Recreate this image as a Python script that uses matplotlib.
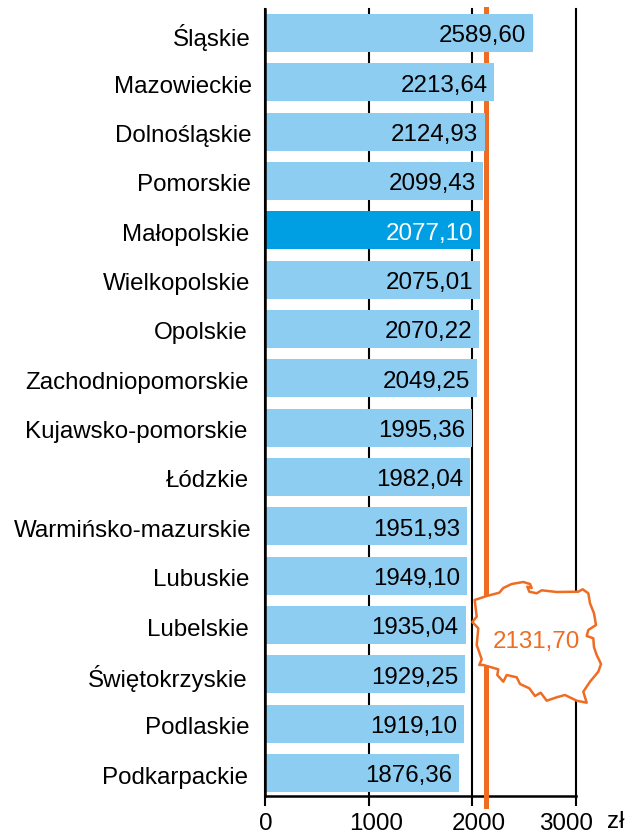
import matplotlib
matplotlib.use('Agg')
import matplotlib.pyplot as plt
from matplotlib.patches import Polygon
from matplotlib.transforms import ScaledTranslation

plt.rcParams['font.family'] = ['Liberation Sans', 'DejaVu Sans']

regions = ['Śląskie', 'Mazowieckie', 'Dolnośląskie', 'Pomorskie', 'Małopolskie',
           'Wielkopolskie', 'Opolskie', 'Zachodniopomorskie', 'Kujawsko-pomorskie',
           'Łódzkie', 'Warmińsko-mazurskie', 'Lubuskie', 'Lubelskie',
           'Świętokrzyskie', 'Podlaskie', 'Podkarpackie']
values = [2589.60, 2213.64, 2124.93, 2099.43, 2077.10, 2075.01, 2070.22, 2049.25,
          1995.36, 1982.04, 1951.93, 1949.10, 1935.04, 1929.25, 1919.10, 1876.36]
highlight = 'Małopolskie'
national = 2131.70

# hand placement of labels in the original, pixels
label_nudge = [1, 2, 1, 1, -1, 0, -2, -1, -3, -1, 1, -1, -1, -2, -1, -2]
xtick_nudge = [0, 7, 7, -10]

# outline of Poland, figure pixels
map_x = [474.7, 486.7, 499.3, 503.3, 511.7, 523.3, 530, 531.7, 527.3, 529.3, 536.7, 541.7,
         556.7, 578.3, 582.7, 588.3, 590, 594, 596, 588.3, 586.7, 593.3, 594, 596.7, 601,
         598.3, 590, 583.3, 585, 586.7, 576.7, 565, 556.7, 546.7, 540.7, 535, 529.3, 520,
         516.7, 506.7, 503.3, 497.3, 498.3, 483.3, 479.3, 481.7, 476.7, 478.3, 472.3, 476.7]
map_y = [600, 596, 592.7, 588, 584, 582, 584, 588, 586.7, 591.7, 593.3, 590.3,
         592, 591.7, 589.3, 593.3, 603.3, 613.3, 625, 630, 636, 638.3, 647.3, 655, 664,
         671.7, 681.7, 691.7, 697.3, 702.7, 700.7, 695, 697.3, 700.7, 692.7, 696, 688.3, 684,
         677.3, 675, 681.7, 675, 669.3, 665, 665, 659.3, 645, 628.3, 622, 616.7]

fig = plt.figure(figsize=(6.25, 8.32), dpi=100)
ax = fig.add_axes([265.3 / 625, 1 - 796 / 832, 310.4 / 625, 787 / 832])

ypos = list(range(len(regions)))
colors = ['#009FE3' if r == highlight else '#8ECDF2' for r in regions]

ax.axvline(national, color='#EF6C23', lw=3.6, zorder=1, ymin=-0.0127, clip_on=False)
ax.barh(ypos, values, height=0.77, color=colors, linewidth=0, zorder=2)

for y, r, v in zip(ypos, regions, values):
    txt = f'{v:.2f}'.replace('.', ',')
    ax.annotate(txt, (v, y), xytext=(-5, -2.5), textcoords='offset points', ha='right',
                va='center', fontsize=17.4, zorder=3,
                color='white' if r == highlight else 'black')

ax.set_xlim(0, 3000)
ax.set_ylim(15.466, -0.486)
ax.set_xticks([0, 1000, 2000, 3000])
ax.set_yticks(ypos)
ax.set_yticklabels(regions, fontsize=17.4)
ax.tick_params(axis='y', length=0, pad=11)
ax.tick_params(axis='x', length=7.2, width=1.5, labelsize=17.4, pad=5)
ax.grid(axis='x', color='black', lw=1.5, zorder=0)
ax.set_axisbelow(True)
for line in ax.get_xgridlines():
    line.set_clip_on(False)

for lab, dx in zip(ax.get_yticklabels(), label_nudge):
    lab.set_transform(lab.get_transform() + ScaledTranslation(dx / 100, -2 / 100, fig.dpi_scale_trans))
for lab, dx in zip(ax.get_xticklabels(), xtick_nudge):
    lab.set_transform(lab.get_transform() + ScaledTranslation(dx / 100, 0, fig.dpi_scale_trans))

for s in ['top', 'right']:
    ax.spines[s].set_visible(False)
ax.spines['left'].set_linewidth(1.8)
ax.spines['bottom'].set_linewidth(1.8)
ax.spines['left'].set_zorder(4)
ax.spines['bottom'].set_zorder(0.5)

fig.text(607 / 625, 1 - 822 / 832, 'zł', fontsize=17.4, va='center', ha='left')

# map sits above everything, drawn in figure pixel coordinates
map_pts = [(x / 625, 1 - y / 832) for x, y in zip(map_x, map_y)]
fig.add_artist(Polygon(map_pts, closed=True, transform=fig.transFigure, facecolor='white',
                       edgecolor='#EF6C23', lw=1.8, joinstyle='round', zorder=5))
fig.text(536.5 / 625, 1 - 642 / 832, '2131,70', color='#EF6C23', fontsize=17.4,
         ha='center', va='center', zorder=6)

fig.savefig('out.png', dpi=100)
